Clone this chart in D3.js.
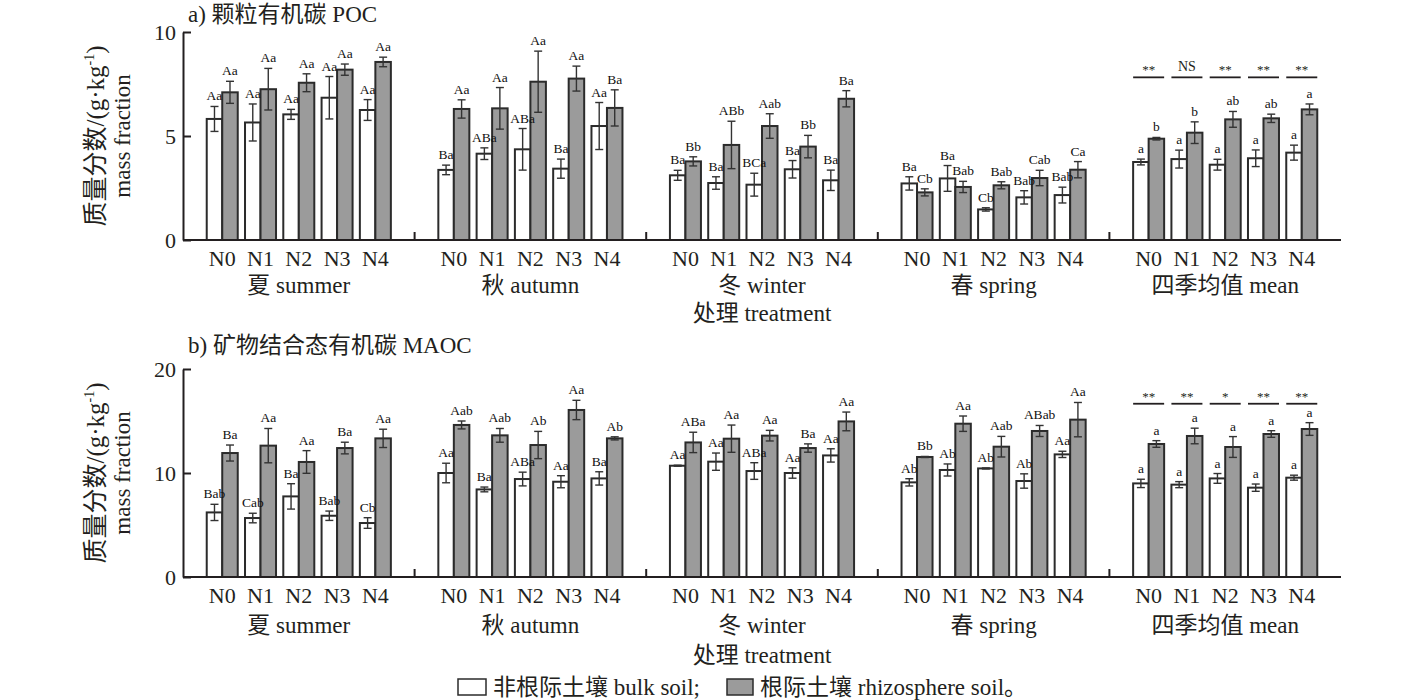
<!DOCTYPE html>
<html>
<head>
<meta charset="utf-8">
<script src="https://cdn.jsdelivr.net/npm/d3@7"></script>
<style>
  body { margin: 0; background: #fff; }
  svg text { font-family: "Liberation Serif", "Noto Sans CJK SC", serif; fill: #231f20; }
</style>
</head>
<body>
<svg id="chart" width="1417" height="700"></svg>
<script>
// 分组与处理
var seasons = ["夏 summer", "秋 autumn", "冬 winter", "春 spring", "四季均值 mean"];
var treatments = ["N0", "N1", "N2", "N3", "N4"];
var soils = ["bulk", "rhizo"];

// a) POC，每行一个季节
var pocBulk = [
    [5.82, 5.65, 6.04, 6.84, 6.25],
    [3.37, 4.15, 4.36, 3.43, 5.48],
    [3.11, 2.74, 2.66, 3.40, 2.87],
    [2.72, 2.96, 1.47, 2.05, 2.16],
    [3.75, 3.89, 3.62, 3.93, 4.20]
];
var pocBulkErr = [
    [0.60, 0.89, 0.24, 1.02, 0.50],
    [0.23, 0.28, 1.00, 0.46, 1.13],
    [0.24, 0.30, 0.55, 0.42, 0.49],
    [0.32, 0.62, 0.08, 0.32, 0.38],
    [0.14, 0.43, 0.26, 0.40, 0.36]
];
var pocRhizo = [
    [7.10, 7.25, 7.56, 8.19, 8.56],
    [6.30, 6.33, 7.61, 7.76, 6.35],
    [3.78, 4.57, 5.48, 4.49, 6.79],
    [2.29, 2.55, 2.63, 2.98, 3.38],
    [4.87, 5.16, 5.80, 5.85, 6.28]
];
var pocRhizoErr = [
    [0.53, 1.00, 0.43, 0.27, 0.23],
    [0.44, 1.00, 1.47, 0.60, 0.87],
    [0.22, 1.14, 0.59, 0.54, 0.39],
    [0.17, 0.27, 0.17, 0.37, 0.39],
    [0.06, 0.52, 0.38, 0.20, 0.26]
];
var pocBulkLetters = [
    ["Aa", "Aa", "Aa", "Aa", "Aa"],
    ["Ba", "ABa", "ABa", "Ba", "Aa"],
    ["Ba", "Ba", "BCa", "Ba", "Ba"],
    ["Ba", "Ba", "Cb", "Bab", "Bab"],
    ["a", "a", "a", "a", "a"]
];
var pocRhizoLetters = [
    ["Aa", "Aa", "Aa", "Aa", "Aa"],
    ["Aa", "Aa", "Aa", "Aa", "Ba"],
    ["Bb", "ABb", "Aab", "Bb", "Ba"],
    ["Cb", "Bab", "Bab", "Cab", "Ca"],
    ["b", "b", "ab", "ab", "a"]
];
var pocSig = ["**", "NS", "**", "**", "**"];

// b) MAOC
var maocBulk = [
    [6.21, 5.67, 7.75, 5.89, 5.19],
    [10.00, 8.42, 9.42, 9.16, 9.48],
    [10.70, 11.09, 10.19, 10.00, 11.69],
    [9.10, 10.29, 10.44, 9.23, 11.79],
    [9.00, 8.88, 9.48, 8.59, 9.55]
];
var maocBulkErr = [
    [0.78, 0.46, 1.22, 0.45, 0.51],
    [0.94, 0.23, 0.66, 0.58, 0.64],
    [0.05, 0.83, 0.80, 0.50, 0.64],
    [0.35, 0.58, 0.05, 0.69, 0.30],
    [0.40, 0.29, 0.47, 0.35, 0.24]
];
var maocRhizo = [
    [11.92, 12.63, 11.06, 12.40, 13.33],
    [14.62, 13.62, 12.69, 16.06, 13.33],
    [12.94, 13.30, 13.59, 12.40, 14.96],
    [11.54, 14.74, 12.53, 14.04, 15.13],
    [12.79, 13.56, 12.50, 13.75, 14.23]
];
var maocRhizoErr = [
    [0.77, 1.65, 1.09, 0.56, 0.88],
    [0.38, 0.66, 1.31, 0.93, 0.15],
    [0.98, 1.31, 0.51, 0.40, 0.90],
    [0.05, 0.74, 0.99, 0.53, 1.65],
    [0.32, 0.75, 1.00, 0.32, 0.61]
];
var maocBulkLetters = [
    ["Bab", "Cab", "Ba", "Bab", "Cb"],
    ["Aa", "Ba", "ABa", "Aa", "Ba"],
    ["Aa", "Aa", "ABa", "Aa", "Aa"],
    ["Ab", "Ab", "Ab", "Ab", "Aa"],
    ["a", "a", "a", "a", "a"]
];
var maocRhizoLetters = [
    ["Ba", "Aa", "Aa", "Ba", "Aa"],
    ["Aab", "Aab", "Ab", "Aa", "Ab"],
    ["ABa", "Aa", "Aa", "Ba", "Aa"],
    ["Bb", "Aa", "Aab", "ABab", "Aa"],
    ["a", "a", "a", "a", "a"]
];
var maocSig = ["**", "**", "*", "**", "**"];

var yTicksPoc = [0, 5, 10];
var yTicksMaoc = [0, 10, 20];

var svg = d3.select("#chart");
var left = 183, right = 1341;
var fill = {bulk: "#ffffff", rhizo: "#9b9b9b"};

var x0 = d3.scaleBand().domain(seasons).range([left, right]);
var x1 = d3.scaleBand().domain(treatments).range([0, x0.bandwidth()])
    .paddingInner(0.19).paddingOuter(0.62);
var x2 = d3.scaleBand().domain(soils).range([0, x1.bandwidth()]);

var panels = [
    {title: "a) 颗粒有机碳 POC", top: 32, bottom: 240, max: 10, ticks: yTicksPoc,
     bulk: pocBulk, bulkErr: pocBulkErr, rhizo: pocRhizo, rhizoErr: pocRhizoErr,
     bulkL: pocBulkLetters, rhizoL: pocRhizoLetters, sig: pocSig, sigV: 7.82,
     titleDy: -10, seasonDy: 53, treatDy: 81},
    {title: "b) 矿物结合态有机碳 MAOC", top: 369, bottom: 577, max: 20, ticks: yTicksMaoc,
     bulk: maocBulk, bulkErr: maocBulkErr, rhizo: maocRhizo, rhizoErr: maocRhizoErr,
     bulkL: maocBulkLetters, rhizoL: maocRhizoLetters, sig: maocSig, sigV: 16.66,
     titleDy: -16, seasonDy: 56, treatDy: 86}
];

panels.forEach(function(p){
    var y = d3.scaleLinear().domain([0, p.max]).range([p.bottom, p.top]);
    var g = svg.append("g");

    // 数据整理
    var rows = [];
    seasons.forEach(function(s, i){
        treatments.forEach(function(t, j){
            rows.push({s: s, t: t, soil: "bulk", v: p.bulk[i][j], e: p.bulkErr[i][j], lab: p.bulkL[i][j]});
            rows.push({s: s, t: t, soil: "rhizo", v: p.rhizo[i][j], e: p.rhizoErr[i][j], lab: p.rhizoL[i][j]});
        });
    });
    function bx(d){ return x0(d.s) + x1(d.t) + x2(d.soil); }
    function cx(d){ return bx(d) + x2.bandwidth() / 2; }

    g.selectAll("rect.bar")
        .data(rows)
        .enter()
        .append("rect")
            .attr("class", "bar")
            .attr("x", bx)
            .attr("y", function(d){ return y(d.v); })
            .attr("width", x2.bandwidth())
            .attr("height", function(d){ return y(0) - y(d.v); })
            .attr("fill", function(d){ return fill[d.soil]; })
            .attr("stroke", "#2b2b2b")
            .attr("stroke-width", 2);

    // 误差线
    var eb = g.selectAll("g.err").data(rows).enter().append("g").attr("class", "err")
        .attr("stroke", "#333").attr("stroke-width", 1.4);
    eb.append("line")
        .attr("x1", cx).attr("x2", cx)
        .attr("y1", function(d){ return y(d.v + d.e); })
        .attr("y2", function(d){ return y(d.v - d.e); });
    eb.append("line")
        .attr("x1", function(d){ return cx(d) - 4; }).attr("x2", function(d){ return cx(d) + 4; })
        .attr("y1", function(d){ return y(d.v + d.e); })
        .attr("y2", function(d){ return y(d.v + d.e); });
    eb.append("line")
        .attr("x1", function(d){ return cx(d) - 4; }).attr("x2", function(d){ return cx(d) + 4; })
        .attr("y1", function(d){ return y(d.v - d.e); })
        .attr("y2", function(d){ return y(d.v - d.e); });

    g.selectAll("text.lab")
        .data(rows)
        .enter()
        .append("text")
            .attr("class", "lab")
            .attr("x", cx)
            .attr("y", function(d){ return y(d.v + d.e) - 6; })
            .attr("text-anchor", "middle")
            .attr("font-size", 13.5)
            .style("fill", "#111")
            .text(function(d){ return d.lab; });

    // 四季均值显著性
    var meanS = seasons[seasons.length - 1];
    treatments.forEach(function(t, j){
        var xa = x0(meanS) + x1(t);
        g.append("line")
            .attr("x1", xa).attr("x2", xa + x1.bandwidth())
            .attr("y1", y(p.sigV)).attr("y2", y(p.sigV))
            .attr("stroke", "#231f20").attr("stroke-width", 1.8);
        g.append("text")
            .attr("x", xa + x1.bandwidth() / 2)
            .attr("y", y(p.sigV) - (p.sig[j] == "NS" ? 6 : 3))
            .attr("text-anchor", "middle")
            .attr("font-size", p.sig[j] == "NS" ? 14 : 13)
            .text(p.sig[j]);
    });

    // y轴
    var yAxis = g.append("g")
        .attr("transform", "translate(" + left + ",0)")
        .call(d3.axisLeft(y).tickValues(p.ticks).tickSizeInner(-8).tickSizeOuter(0).tickPadding(7));
    yAxis.selectAll("text").attr("font-size", 22).style("font-family", "Liberation Serif");
    yAxis.selectAll("line,path").attr("stroke", "#231f20").attr("stroke-width", 2);

    // x轴
    g.append("line")
        .attr("x1", left).attr("x2", right)
        .attr("y1", y(0)).attr("y2", y(0))
        .attr("stroke", "#231f20").attr("stroke-width", 2);
    seasons.slice(1).forEach(function(s){
        g.append("line")
            .attr("x1", x0(s)).attr("x2", x0(s))
            .attr("y1", y(0)).attr("y2", y(0) - 8)
            .attr("stroke", "#231f20").attr("stroke-width", 2);
    });
    seasons.forEach(function(s){
        var ga = g.append("g")
            .attr("transform", "translate(" + x0(s) + "," + y(0) + ")")
            .call(d3.axisBottom(x1).tickSize(0).tickPadding(10));
        ga.select(".domain").remove();
        ga.selectAll("text").attr("font-size", 22).style("font-family", "Liberation Serif");
        g.append("text")
            .attr("x", x0(s) + x0.bandwidth() / 2)
            .attr("y", y(0) + p.seasonDy)
            .attr("text-anchor", "middle")
            .attr("font-size", 23)
            .text(s);
    });
    g.append("text")
        .attr("x", x0(seasons[2]) + x0.bandwidth() / 2)
        .attr("y", y(0) + p.treatDy)
        .attr("text-anchor", "middle")
        .attr("font-size", 23)
        .text("处理 treatment");

    // 标题
    g.append("text")
        .attr("x", 188)
        .attr("y", p.top + p.titleDy)
        .attr("font-size", 23)
        .text(p.title);

    // y轴标题
    var yc = (p.top + p.bottom) / 2;
    var t1 = g.append("text")
        .attr("transform", "translate(104," + yc + ") rotate(-90)")
        .attr("text-anchor", "middle")
        .attr("font-size", 25);
    t1.append("tspan").text("质量分数/(g·kg");
    t1.append("tspan").attr("font-size", 14).attr("dy", -10).text("-1");
    t1.append("tspan").attr("dy", 10).text(")");
    g.append("text")
        .attr("transform", "translate(130," + yc + ") rotate(-90)")
        .attr("text-anchor", "middle")
        .attr("font-size", 23)
        .text("mass fraction");
});

// 图例
var legend = svg.append("g").attr("transform", "translate(458,679)");
legend.append("rect").attr("x", 0).attr("y", 0).attr("width", 28).attr("height", 16)
    .attr("fill", fill.bulk).attr("stroke", "#2b2b2b").attr("stroke-width", 1.5);
legend.append("text").attr("x", 35).attr("y", 16).attr("font-size", 23).text("非根际土壤 bulk soil;");
legend.append("rect").attr("x", 269).attr("y", 0).attr("width", 26).attr("height", 16)
    .attr("fill", fill.rhizo).attr("stroke", "#2b2b2b").attr("stroke-width", 1.5);
legend.append("text").attr("x", 302).attr("y", 16).attr("font-size", 23).text("根际土壤 rhizosphere soil。");
</script>
</body>
</html>
